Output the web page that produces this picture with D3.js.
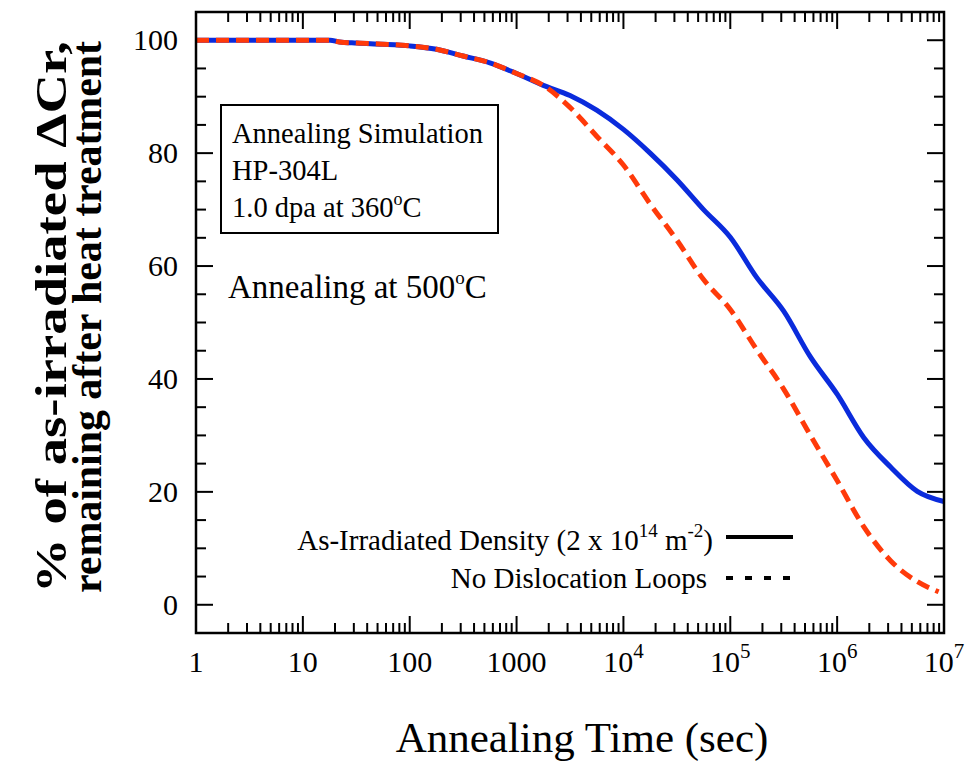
<!DOCTYPE html>
<html>
<head>
<meta charset="utf-8">
<script src="https://cdn.jsdelivr.net/npm/d3@7"></script>
<style>
  body { margin: 0; background: #fff; }
  svg text { font-family: "Liberation Serif", "Times New Roman", serif; fill: #000; }
</style>
</head>
<body>
<svg id="chart" width="967" height="761"></svg>
<script>
// annealing time (sec) for the irradiated case
const timeIrr = [1, 10, 18, 22, 32, 56, 100, 178, 316, 562, 1000, 1778, 3162, 5623, 1e4, 17783, 31623, 56234,
  1e5, 177828, 316228, 562341, 1e6, 1778279, 3162278, 5623413, 1e7];
// % remaining, as-irradiated density (blue solid)
const remainIrr = [100, 100, 100, 99.7, 99.5, 99.3, 99.0, 98.4, 97.2, 96.0, 94.1, 92.0, 90.2, 87.6, 84.2, 80.0, 75.3, 70.0,
  65.1, 57.9, 52.0, 43.9, 37.3, 29.6, 24.4, 20.1, 18.3];

// annealing time (sec) for the no-loop case
const timeNoLoop = [1, 10, 18, 22, 32, 56, 100, 178, 316, 562, 1000, 1778, 3162, 5623, 1e4, 17783, 31623, 56234,
  1e5, 177828, 316228, 562341, 1e6, 1778279, 3162278, 5623413, 8912509];
// % remaining, no dislocation loops (red dashed)
const remainNoLoop = [100, 100, 100, 99.7, 99.5, 99.3, 99.0, 98.4, 97.2, 96.0, 94.1, 92.0, 88.1, 83.0, 77.9, 71.0, 64.6, 57.6,
  52.3, 45.1, 38.2, 30.0, 22.0, 13.8, 7.8, 4.1, 2.3];

const yTicks = [0, 20, 40, 60, 80, 100];
const xTickLabels = ["1", "10", "100", "1000", "10^4", "10^5", "10^6", "10^7"];

let svg = d3.select("#chart");

let x = d3.scaleLog().domain([1, 1e7]).range([196, 944]);
let y = d3.scaleLinear().domain([-5, 105]).range([633, 12]);

let plotLeft = x.range()[0], plotRight = x.range()[1];
let plotTop = y.range()[1], plotBottom = y.range()[0];

// minor / major tick positions
let xMinor = [];
for (let e = 0; e < 7; e++) {
  for (let m = 2; m <= 9; m++) xMinor.push(m * Math.pow(10, e));
}
let xMajor = d3.range(0, 8).map(e => Math.pow(10, e));
let yMinor = d3.range(-5, 106, 5).filter(v => v % 20 !== 0);

let ticks = svg.append("g").attr("stroke", "#000").attr("stroke-width", 2);
let majorLen = 17, minorLen = 10;

xMajor.forEach(v => {
  ticks.append("line").attr("x1", x(v)).attr("x2", x(v)).attr("y1", plotBottom).attr("y2", plotBottom - majorLen);
  ticks.append("line").attr("x1", x(v)).attr("x2", x(v)).attr("y1", plotTop).attr("y2", plotTop + majorLen);
});
xMinor.forEach(v => {
  ticks.append("line").attr("x1", x(v)).attr("x2", x(v)).attr("y1", plotBottom).attr("y2", plotBottom - minorLen);
  ticks.append("line").attr("x1", x(v)).attr("x2", x(v)).attr("y1", plotTop).attr("y2", plotTop + minorLen);
});
yTicks.forEach(v => {
  ticks.append("line").attr("x1", plotLeft).attr("x2", plotLeft + majorLen).attr("y1", y(v)).attr("y2", y(v));
  ticks.append("line").attr("x1", plotRight).attr("x2", plotRight - majorLen).attr("y1", y(v)).attr("y2", y(v));
});
yMinor.forEach(v => {
  ticks.append("line").attr("x1", plotLeft).attr("x2", plotLeft + minorLen).attr("y1", y(v)).attr("y2", y(v));
  ticks.append("line").attr("x1", plotRight).attr("x2", plotRight - minorLen).attr("y1", y(v)).attr("y2", y(v));
});

// curves
let line = d3.line()
  .x(d => x(d[0]))
  .y(d => y(d[1]))
  .curve(d3.curveMonotoneX);

svg.append("path")
  .datum(timeIrr.map((t, i) => [t, remainIrr[i]]))
  .attr("d", line)
  .attr("fill", "none")
  .attr("stroke", "#0a2bdc")
  .attr("stroke-width", 5);

svg.append("path")
  .datum(timeNoLoop.map((t, i) => [t, remainNoLoop[i]]))
  .attr("d", line)
  .attr("fill", "none")
  .attr("stroke", "#ff3a0a")
  .attr("stroke-width", 5)
  .attr("stroke-dasharray", "13,7");

// frame
svg.append("rect")
  .attr("x", plotLeft).attr("y", plotTop)
  .attr("width", plotRight - plotLeft).attr("height", plotBottom - plotTop)
  .attr("fill", "none").attr("stroke", "#000").attr("stroke-width", 2.5);

// y tick labels
svg.append("g").selectAll("text")
  .data(yTicks)
  .enter().append("text")
  .attr("x", 178)
  .attr("y", d => y(d) + 10)
  .attr("text-anchor", "end")
  .attr("font-size", "30px")
  .text(d => d);

// x tick labels (powers get superscripts)
let xl = svg.append("g");
xTickLabels.forEach((lab, i) => {
  let t = xl.append("text")
    .attr("x", x(xMajor[i]))
    .attr("y", 672)
    .attr("text-anchor", "middle")
    .attr("font-size", "30px");
  if (lab.includes("^")) {
    let parts = lab.split("^");
    t.append("tspan").text(parts[0]);
    t.append("tspan").attr("dy", -14).attr("font-size", "21px").text(parts[1]);
  } else {
    t.text(lab);
  }
});

// axis titles
svg.append("text")
  .attr("x", 582).attr("y", 752)
  .attr("text-anchor", "middle")
  .attr("font-size", "43px")
  .text("Annealing Time (sec)");

svg.append("text")
  .attr("transform", "translate(66,317) rotate(-90)")
  .attr("text-anchor", "middle")
  .attr("font-size", "44px")
  .attr("font-weight", "bold")
  .attr("textLength", 552)
  .attr("lengthAdjust", "spacingAndGlyphs")
  .text("% of as-irradiated ΔCr,");

svg.append("text")
  .attr("transform", "translate(101,317) rotate(-90)")
  .attr("text-anchor", "middle")
  .attr("font-size", "43px")
  .attr("font-weight", "bold")
  .attr("textLength", 552)
  .attr("lengthAdjust", "spacingAndGlyphs")
  .text("remaining after heat treatment");

// info box
svg.append("rect")
  .attr("x", 221).attr("y", 105)
  .attr("width", 277).attr("height", 128)
  .attr("fill", "none").attr("stroke", "#000").attr("stroke-width", 2);

let boxLines = ["Annealing Simulation", "HP-304L"];
boxLines.forEach((s, i) => {
  svg.append("text")
    .attr("x", 232).attr("y", 143 + i * 37)
    .attr("font-size", "28.5px")
    .text(s);
});
let dpa = svg.append("text").attr("x", 232).attr("y", 217).attr("font-size", "28.5px");
dpa.append("tspan").text("1.0 dpa at 360");
dpa.append("tspan").attr("dy", -12).attr("font-size", "18px").text("o");
dpa.append("tspan").attr("dy", 12).text("C");

let ann = svg.append("text").attr("x", 228).attr("y", 298).attr("font-size", "33px");
ann.append("tspan").text("Annealing at 500");
ann.append("tspan").attr("dy", -14).attr("font-size", "19px").text("o");
ann.append("tspan").attr("dy", 14).text("C");

// legend
let lg1 = svg.append("text").attr("x", 713).attr("y", 550).attr("text-anchor", "end").attr("font-size", "29px");
lg1.append("tspan").text("As-Irradiated Density (2 x 10");
lg1.append("tspan").attr("dy", -13).attr("font-size", "19px").text("14");
lg1.append("tspan").attr("dy", 13).text(" m");
lg1.append("tspan").attr("dy", -13).attr("font-size", "19px").text("-2");
lg1.append("tspan").attr("dy", 13).text(")");

svg.append("text").attr("x", 707).attr("y", 588).attr("text-anchor", "end").attr("font-size", "29px")
  .text("No Dislocation Loops");

svg.append("line")
  .attr("x1", 726).attr("x2", 793).attr("y1", 537).attr("y2", 537)
  .attr("stroke", "#000").attr("stroke-width", 4);
svg.append("line")
  .attr("x1", 726).attr("x2", 793).attr("y1", 578).attr("y2", 578)
  .attr("stroke", "#000").attr("stroke-width", 4)
  .attr("stroke-dasharray", "7,12");
</script>
</body>
</html>
